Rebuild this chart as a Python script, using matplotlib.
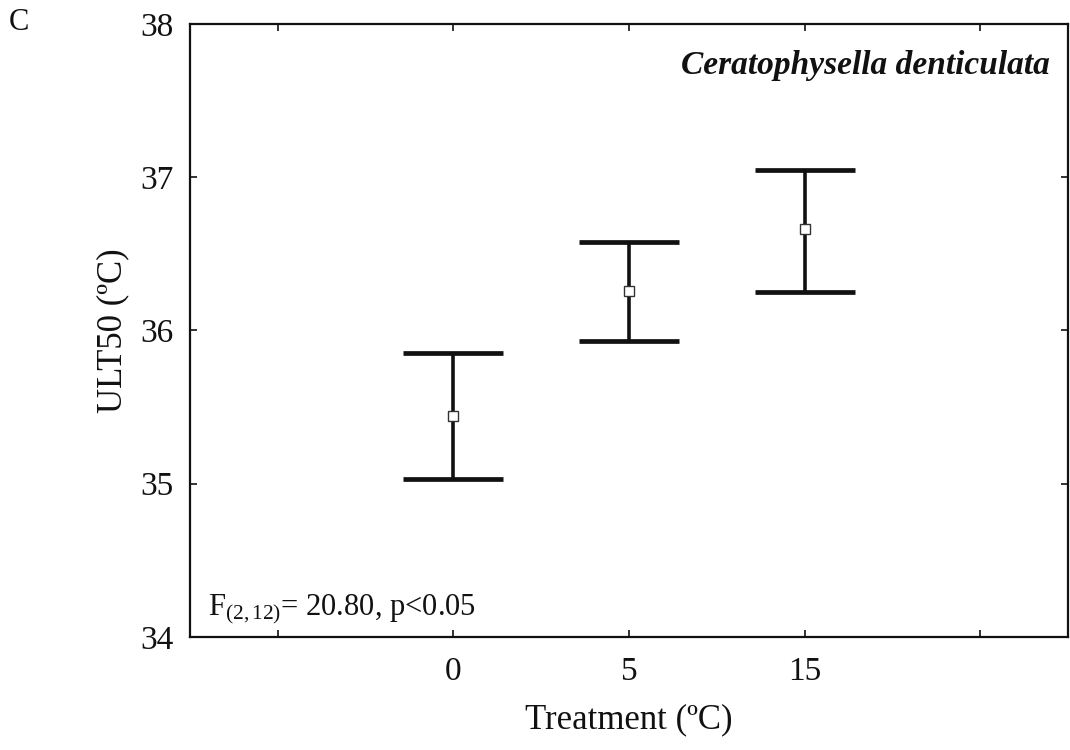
import matplotlib
matplotlib.use("Agg")
import matplotlib.pyplot as plt

plt.rcParams['font.family'] = ['Liberation Serif', 'DejaVu Serif']
plt.rcParams['mathtext.fontset'] = 'custom'
plt.rcParams['mathtext.rm'] = 'Liberation Serif'
plt.rcParams['mathtext.it'] = 'Liberation Serif:italic'

categories = ['0', '5', '15']
means = [35.44, 36.26, 36.66]
upper = [35.85, 36.58, 37.05]
lower = [35.03, 35.93, 36.25]

fig = plt.figure(figsize=(10.7, 7.5), dpi=100)
ax = fig.add_axes([0.1776, 0.1507, 0.998 - 0.1776, 0.968 - 0.1507])

xpos = list(range(len(categories)))
yerr = [[m - l for m, l in zip(means, lower)], [u - m for m, u in zip(means, upper)]]
ax.errorbar(xpos, means, yerr=yerr, fmt='none', ecolor='#111111',
            elinewidth=2.6, capsize=36, capthick=3.4, zorder=2)
ax.plot(xpos, means, linestyle='none', marker='s', markersize=7,
        markerfacecolor='white', markeredgecolor='#333333', markeredgewidth=1.0, zorder=3)

ax.set_xlim(-1.5, 3.5)
ax.set_ylim(34, 38)
ax.set_xticks([-1, 0, 1, 2, 3])
ax.set_xticklabels(['', '0', '5', '15', ''])
ax.set_yticks([34, 35, 36, 37, 38])
ax.tick_params(direction='in', length=5, width=1.2, top=True, right=True,
               labelsize=24, colors='#111111')
ax.tick_params(axis='x', pad=14)
ax.tick_params(axis='y', pad=12)
for s in ax.spines.values():
    s.set_linewidth(1.6)
    s.set_color('#111111')

ax.set_xlabel('Treatment (ºC)', fontsize=25, labelpad=12, color='#111111')
ax.set_ylabel('ULT50 (ºC)', fontsize=25, labelpad=8, color='#111111')

ax.text(0.98, 0.932, 'Ceratophysella denticulata', transform=ax.transAxes,
        ha='right', va='center', fontsize=24, style='italic', fontweight='bold',
        color='#111111')
ax.text(0.02, 0.036, r'F$_{\mathrm{(2,12)}}$= 20.80, p<0.05', transform=ax.transAxes,
        ha='left', va='baseline', fontsize=22, color='#111111')
fig.text(0.018, 0.97, 'C', ha='center', va='center', fontsize=22, color='#111111')

fig.savefig('out.png', dpi=100)
